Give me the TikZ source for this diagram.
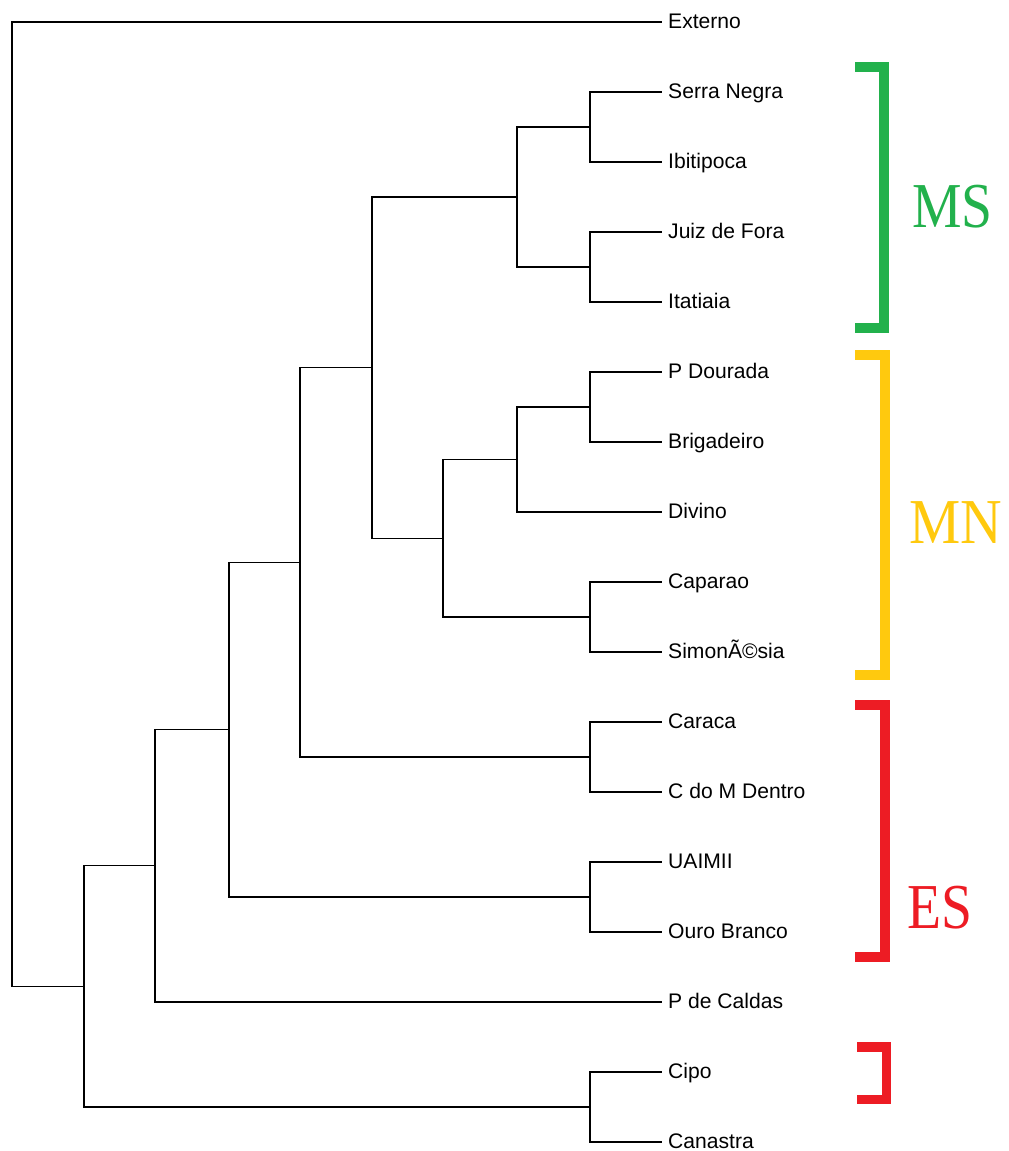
\documentclass[tikz,border=0pt]{standalone}
\usepackage{fontspec}
\setmainfont{Liberation Sans}
\newfontfamily\bigserif{Liberation Serif}
\definecolor{msgreen}{RGB}{34,177,76}
\definecolor{mnyellow}{RGB}{255,201,14}
\definecolor{esred}{RGB}{237,28,36}
\tikzset{
  edge/.style={line width=1.3pt, black, line join=miter},
  lbl/.style={anchor=base west, inner sep=0pt, font=\fontsize{21.1}{24}\selectfont},
  bracket/.style={line width=10pt, line join=miter, line cap=butt},
  grp/.style={anchor=base west, inner sep=0pt, font=\bigserif\fontsize{64}{70}\selectfont}
}
\begin{document}
\begin{tikzpicture}[x=1pt,y=-1pt]
\useasboundingbox (0,0) rectangle (1009,1151);
% leaf ends
\coordinate (L0) at (662,22);
\coordinate (L1) at (662,92);
\coordinate (L2) at (662,162);
\coordinate (L3) at (662,232);
\coordinate (L4) at (662,302);
\coordinate (L5) at (662,372);
\coordinate (L6) at (662,442);
\coordinate (L7) at (662,512);
\coordinate (L8) at (662,582);
\coordinate (L9) at (662,652);
\coordinate (L10) at (662,722);
\coordinate (L11) at (662,792);
\coordinate (L12) at (662,862);
\coordinate (L13) at (662,932);
\coordinate (L14) at (662,1002);
\coordinate (L15) at (662,1072);
\coordinate (L16) at (662,1142);
% internal nodes
\coordinate (n1) at (590,127);
\coordinate (n2) at (590,267);
\coordinate (n3) at (517,197);
\coordinate (n4) at (590,407);
\coordinate (n5) at (517,459.5);
\coordinate (n6) at (590,617);
\coordinate (n7) at (443,538.25);
\coordinate (n8) at (372,367.6);
\coordinate (n9) at (590,757);
\coordinate (n10) at (300,562.3);
\coordinate (n11) at (590,897);
\coordinate (n12) at (229,729.7);
\coordinate (n13) at (155,865.8);
\coordinate (n14) at (590,1107);
\coordinate (n15) at (84,986.4);
\coordinate (root) at (12,504.2);
% edges
\draw[edge] (n1) |- (L1); \draw[edge] (n1) |- (L2);
\draw[edge] (n2) |- (L3); \draw[edge] (n2) |- (L4);
\draw[edge] (n3) |- (n1); \draw[edge] (n3) |- (n2);
\draw[edge] (n4) |- (L5); \draw[edge] (n4) |- (L6);
\draw[edge] (n5) |- (n4); \draw[edge] (n5) |- (L7);
\draw[edge] (n6) |- (L8); \draw[edge] (n6) |- (L9);
\draw[edge] (n7) |- (n5); \draw[edge] (n7) |- (n6);
\draw[edge] (n8) |- (n3); \draw[edge] (n8) |- (n7);
\draw[edge] (n9) |- (L10); \draw[edge] (n9) |- (L11);
\draw[edge] (n10) |- (n8); \draw[edge] (n10) |- (n9);
\draw[edge] (n11) |- (L12); \draw[edge] (n11) |- (L13);
\draw[edge] (n12) |- (n10); \draw[edge] (n12) |- (n11);
\draw[edge] (n13) |- (n12); \draw[edge] (n13) |- (L14);
\draw[edge] (n14) |- (L15); \draw[edge] (n14) |- (L16);
\draw[edge] (n15) |- (n13); \draw[edge] (n15) |- (n14);
\draw[edge] (root) |- (L0); \draw[edge] (root) |- (n15);
% labels
\node[lbl] (t0) at (668,28) {Externo};
\node[lbl] (t1) at (668,98) {Serra Negra};
\node[lbl] (t2) at (668,168) {Ibitipoca};
\node[lbl] (t3) at (668,238) {Juiz de Fora};
\node[lbl] (t4) at (668,308) {Itatiaia};
\node[lbl] (t5) at (668,378) {P Dourada};
\node[lbl] (t6) at (668,448) {Brigadeiro};
\node[lbl] (t7) at (668,518) {Divino};
\node[lbl] (t8) at (668,588) {Caparao};
\node[lbl] (t9) at (668,658) {SimonÃ©sia};
\node[lbl] (t10) at (668,728) {Caraca};
\node[lbl] (t11) at (668,798) {C do M Dentro};
\node[lbl] (t12) at (668,868) {UAIMII};
\node[lbl] (t13) at (668,938) {Ouro Branco};
\node[lbl] (t14) at (668,1008) {P de Caldas};
\node[lbl] (t15) at (668,1078) {Cipo};
\node[lbl] (t16) at (668,1148) {Canastra};
% brackets
\draw[bracket, msgreen] (855,66.7) -- (884,66.7) -- (884,328.3) -- (855,328.3);
\draw[bracket, mnyellow] (855,354.5) -- (884.5,354.5) -- (884.5,675) -- (855,675);
\draw[bracket, esred] (855,705) -- (884.5,705) -- (884.5,957) -- (855,957);
\draw[bracket, esred, line width=9.5pt] (857,1047) -- (886.3,1047) -- (886.3,1099.5) -- (857,1099.5);
% group labels
\node[grp, msgreen] (gms) at (912,227) {\scalebox{0.87}[1]{MS}};
\node[grp, mnyellow] (gmn) at (909,543) {\scalebox{0.9}[1]{MN}};
\node[grp, esred] (ges) at (907,928) {\scalebox{0.87}[1]{ES}};
\end{tikzpicture}
\end{document}
